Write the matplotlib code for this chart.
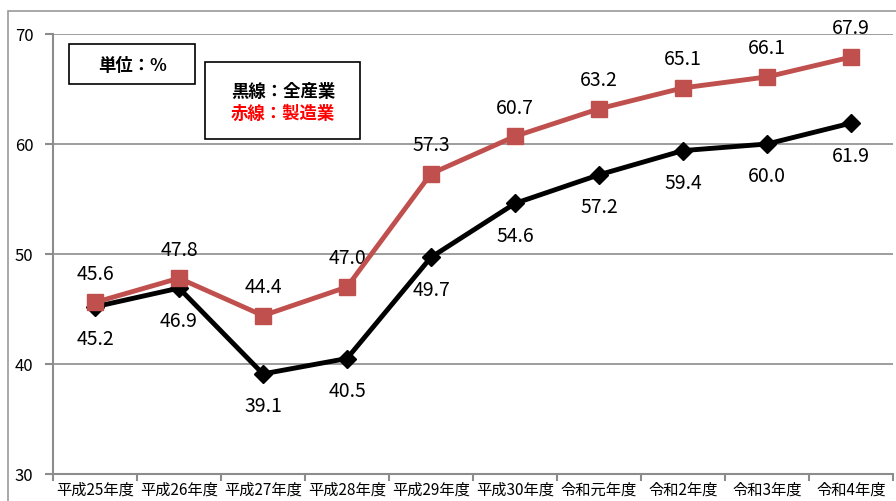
import numpy as np
import matplotlib.pyplot as plt
from matplotlib.patches import Rectangle

plt.rcParams['font.family'] = ['Noto Sans CJK JP', 'DejaVu Sans']

years = ['平成25年度', '平成26年度', '平成27年度', '平成28年度', '平成29年度',
         '平成30年度', '令和元年度', '令和2年度', '令和3年度', '令和4年度']
all_industry = [45.2, 46.9, 39.1, 40.5, 49.7, 54.6, 57.2, 59.4, 60.0, 61.9]
manufacturing = [45.6, 47.8, 44.4, 47.0, 57.3, 60.7, 63.2, 65.1, 66.1, 67.9]

red = '#C0504D'
grid = '#8c8c8c'

fig = plt.figure(figsize=(8.96, 5.02), dpi=100)
ax = fig.add_axes([53 / 896, 27 / 502, 840 / 896, 440 / 502])

# chart area frame
fig.patches.append(Rectangle((8 / 896, -0.1), 1.0, 0.1 + (502 - 12) / 502,
                             transform=fig.transFigure, fill=False,
                             edgecolor='#999999', linewidth=1.2))

x = np.arange(len(years))
ax.plot(x, all_industry, color='black', linewidth=3.5, marker='D',
        markersize=9, zorder=3)
ax.plot(x, manufacturing, color=red, linewidth=3.5, marker='s',
        markersize=11, zorder=4)

for xi, v in zip(x, manufacturing):
    ax.annotate(f'{v:.1f}', (xi, v), xytext=(0, 21), textcoords='offset points',
                ha='center', va='center', fontsize=14)
for xi, v in zip(x, all_industry):
    ax.annotate(f'{v:.1f}', (xi, v), xytext=(0, -23), textcoords='offset points',
                ha='center', va='center', fontsize=14)

ax.set_xlim(-0.5, len(years) - 0.5)
ax.set_ylim(30, 70)
ax.set_yticks([30, 40, 50, 60, 70])
ax.set_xticks(x)
ax.set_xticklabels(years, fontsize=11)
ax.set_xticks(np.arange(-0.5, len(years)), minor=True)
ax.tick_params(axis='x', which='major', length=0, pad=5)
ax.tick_params(axis='x', which='minor', length=5, color=grid, width=1.5)
ax.tick_params(axis='y', length=6, color=grid, width=1.5, labelsize=12, pad=8)
ax.grid(axis='y', color=grid, linewidth=1.2)
ax.set_axisbelow(True)
for s in ['top', 'right']:
    ax.spines[s].set_visible(False)
for s in ['left', 'bottom']:
    ax.spines[s].set_color(grid)
    ax.spines[s].set_linewidth(1.5)

# unit box
fig.patches.append(Rectangle((69 / 896, 1 - 85 / 502), 126 / 896, 40 / 502,
                             transform=fig.transFigure, fill=True,
                             facecolor='white', edgecolor='black', linewidth=1.2))
fig.text(132 / 896, 1 - 66 / 502, '単位：%', ha='center', va='center',
         fontsize=12.5, fontweight='bold')

# line key box
fig.patches.append(Rectangle((205 / 896, 1 - 140 / 502), 155 / 896, 77 / 502,
                             transform=fig.transFigure, fill=True,
                             facecolor='white', edgecolor='black', linewidth=1.2))
fig.text(283 / 896, 1 - 92 / 502, '黒線：全産業', ha='center', va='center',
         fontsize=12.5, fontweight='bold', color='black')
fig.text(283 / 896, 1 - 114 / 502, '赤線：製造業', ha='center', va='center',
         fontsize=12.5, fontweight='bold', color='red')

fig.savefig('out.png', dpi=100)
